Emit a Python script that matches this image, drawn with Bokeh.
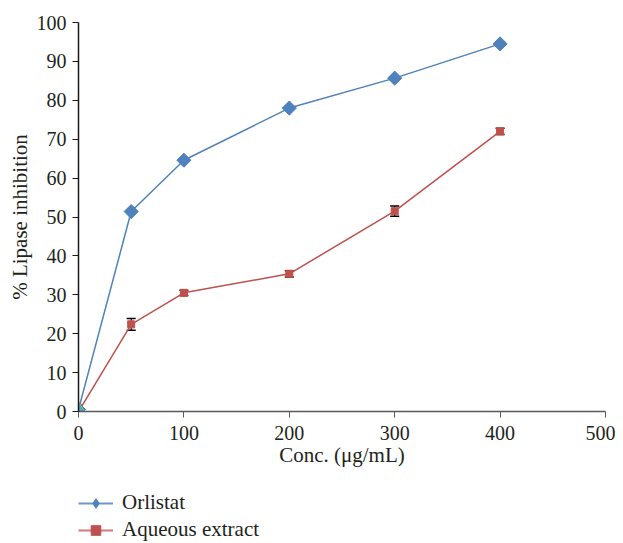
import math
from bokeh.plotting import figure
from bokeh.layouts import column
from bokeh.models import ColumnDataSource, Whisker, Legend, LegendItem, FixedTicker, TeeHead
from bokeh.embed import file_html
from bokeh.resources import INLINE

conc = [0, 50, 100, 200, 300, 400]
orlistat = [0.5, 51.4, 64.6, 78.0, 85.7, 94.5]
orlistat_err = [0.4, 0.4, 0.4, 0.4, 0.4, 0.5]
aqueous = [0.0, 22.4, 30.5, 35.4, 51.5, 72.0]
aqueous_err = [0.6, 1.5, 0.7, 0.8, 1.3, 0.8]
extra_x = [0]
extra_y = [0.8]
x_ticks = [0, 100, 200, 300, 400, 500]
y_ticks = [0, 10, 20, 30, 40, 50, 60, 70, 80, 90, 100]
series_names = ["Orlistat", "Aqueous extract"]

FONT = "Liberation Serif"
TXT = "#231f20"
BLUE = "#4f81bd"
RED = "#c0504d"

p = figure(width=615, height=482, x_range=(0, 500), y_range=(0, 100),
           output_backend="svg", toolbar_location=None,
           min_border_left=78, min_border_right=10, min_border_top=22,
           min_border_bottom=71)
p.outline_line_color = None
p.xgrid.grid_line_color = None
p.ygrid.grid_line_color = None
p.background_fill_color = "white"
p.border_fill_color = "white"

src_o = ColumnDataSource(dict(x=conc, y=orlistat,
                              lo=[a - b for a, b in zip(orlistat, orlistat_err)],
                              hi=[a + b for a, b in zip(orlistat, orlistat_err)]))
src_a = ColumnDataSource(dict(x=conc, y=aqueous,
                              lo=[a - b for a, b in zip(aqueous, aqueous_err)],
                              hi=[a + b for a, b in zip(aqueous, aqueous_err)]))

for src in (src_o, src_a):
    w = Whisker(source=src, base="x", upper="hi", lower="lo", line_color="black", line_width=1.2,
                upper_head=TeeHead(size=9, line_color="black", line_width=1.5),
                lower_head=TeeHead(size=9, line_color="black", line_width=1.5))
    p.add_layout(w)

p.line("x", "y", source=src_o, line_color=BLUE, line_width=1.5)
p.scatter("x", "y", source=src_o, marker="square", angle=math.pi / 4, size=10,
          fill_color=BLUE, line_color=BLUE)
p.line("x", "y", source=src_a, line_color=RED, line_width=1.5)
p.scatter("x", "y", source=src_a, marker="square", size=7, fill_color=RED, line_color=RED)

# hidden-series markers at origin (drawn on top, as in the reference)
p.scatter(extra_x, extra_y, marker="x", size=11, line_color="#8064a2", line_width=2)
p.scatter(extra_x, extra_y, marker="triangle", size=12, fill_color="#9bbb59", line_color="#9bbb59")
p.scatter(extra_x, extra_y, marker="triangle", size=9, fill_color="#4bacc6", line_color="#4bacc6")

p.xaxis.ticker = FixedTicker(ticks=x_ticks)
p.yaxis.ticker = FixedTicker(ticks=y_ticks)
p.xaxis.axis_label = "Conc. (\u03bcg/mL)"
p.yaxis.axis_label = "% Lipase inhibition"
for ax in (p.xaxis, p.yaxis):
    ax.axis_label_text_font = FONT
    ax.axis_label_text_font_style = "normal"
    ax.axis_label_text_font_size = "21px"
    ax.axis_label_text_color = TXT
    ax.major_label_text_font = FONT
    ax.major_label_text_font_size = "20px"
    ax.major_label_text_color = TXT
    ax.minor_tick_line_color = None
    ax.major_tick_in = 0
    ax.major_tick_out = 6
p.xaxis.axis_line_color = "#595959"
p.xaxis.major_tick_line_color = "#595959"
p.xaxis.axis_line_width = 1.5
p.xaxis.major_label_standoff = 8
p.xaxis.axis_label_standoff = 0
p.yaxis.axis_line_color = "#1a1a1a"
p.yaxis.major_tick_line_color = "#1a1a1a"
p.yaxis.axis_line_width = 1.5
p.yaxis.major_label_standoff = 6
p.yaxis.axis_label_standoff = 2

# legend strip below the chart (proxy renderers sit outside its visible range)
lg = figure(width=615, height=60, x_range=(1000, 1001), y_range=(1000, 1001),
            output_backend="svg", toolbar_location=None,
            x_axis_type=None, y_axis_type=None,
            min_border_left=0, min_border_right=0, min_border_top=0, min_border_bottom=0)
lg.outline_line_color = None
lg.xgrid.grid_line_color = None
lg.ygrid.grid_line_color = None
gl_o = lg.line("x", "y", source=src_o, line_color="#6f95cc", line_width=2)
gm_o = lg.scatter("x", "y", source=src_o, marker="diamond", size=14,
                  fill_color=BLUE, line_color=BLUE)
gl_a = lg.line("x", "y", source=src_a, line_color="#d27b78", line_width=2)
gm_a = lg.scatter("x", "y", source=src_a, marker="square", size=7, fill_color=RED, line_color=RED)

legend = Legend(items=[LegendItem(label=series_names[0], renderers=[gl_o, gm_o]),
                       LegendItem(label=series_names[1], renderers=[gl_a, gm_a])],
                location=(0, 0), orientation="vertical")
legend.label_text_font = FONT
legend.label_text_font_size = "21px"
legend.label_text_color = TXT
legend.glyph_width = 35
legend.glyph_height = 24
legend.label_height = 20
legend.label_standoff = 9
legend.spacing = 2
legend.padding = 0
legend.margin = 0
legend.border_line_color = None
legend.background_fill_alpha = 0
lg.add_layout(legend, "center")

layout = column(p, lg, spacing=0)
open("out.html", "w").write(file_html(layout, INLINE))
